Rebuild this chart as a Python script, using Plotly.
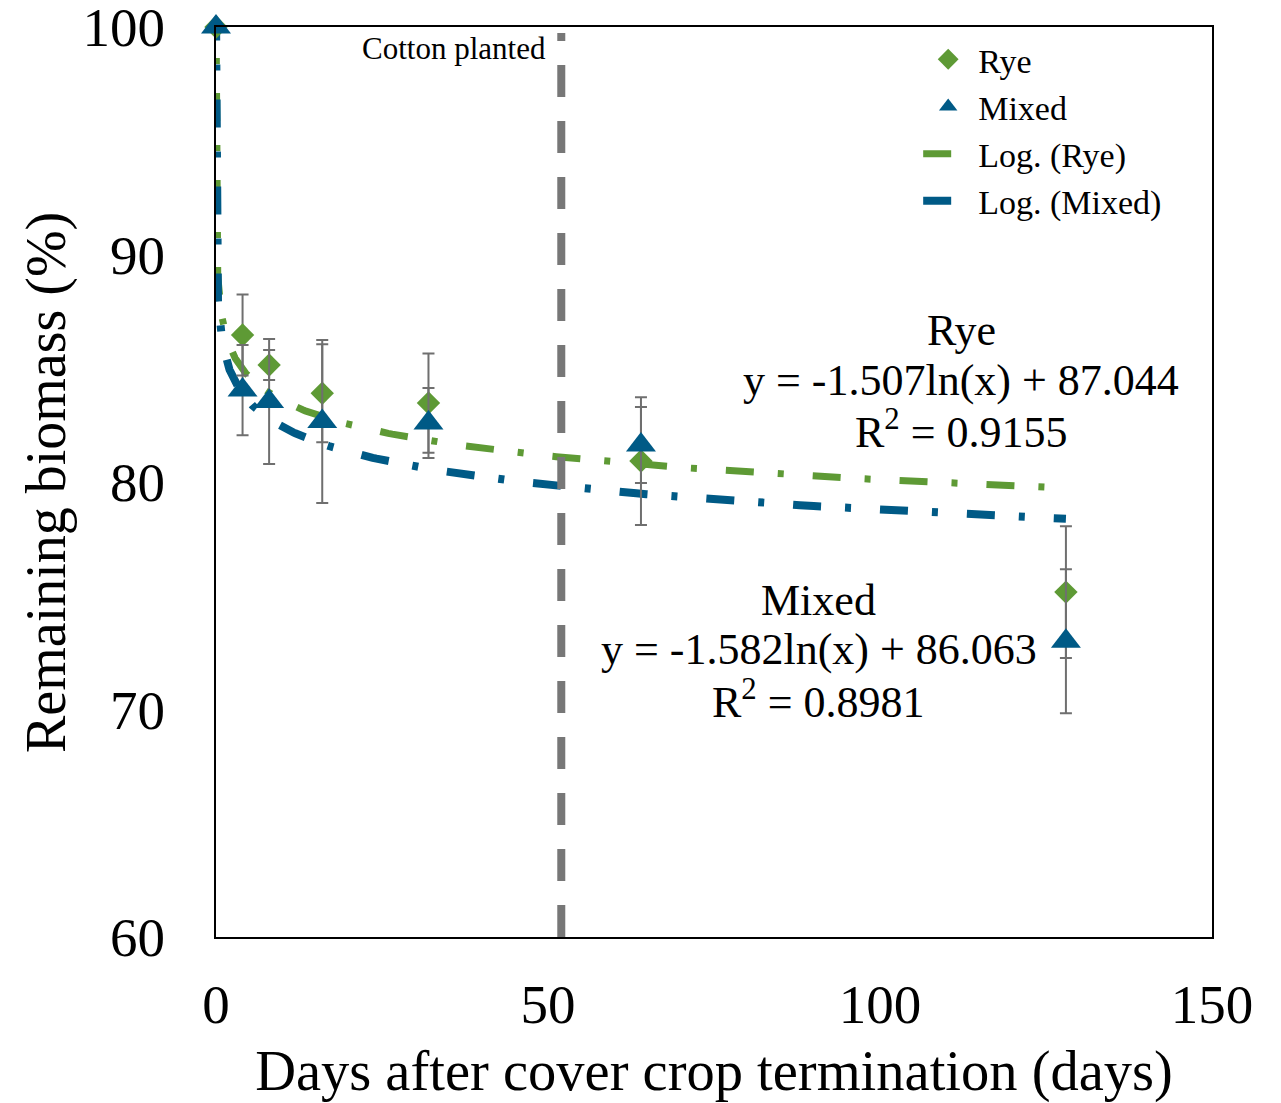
import numpy as np
import plotly.graph_objects as go

# Sampling days after termination
days = [0, 4, 8, 16, 32, 64, 128]

# Remaining biomass (%) and standard error bars
rye = [100, 86.46, 85.14, 83.90, 83.47, 80.92, 75.16]
rye_err = [0, 1.78, 0.66, 2.15, 2.18, 2.81, 2.90]
mixed = [100, 84.04, 83.54, 82.66, 82.59, 81.63, 73.00]
mixed_err = [0, 1.98, 2.75, 3.58, 1.54, 1.67, 3.16]

# Logarithmic trend coefficients: y = a*ln(x) + b
rye_fit = {"a": -1.507, "b": 87.044, "r2": 0.9155}
mixed_fit = {"a": -1.582, "b": 86.063, "r2": 0.8981}

cotton_day = 52

x_ticks = [0, 50, 100, 150]
y_ticks = [60, 70, 80, 90, 100]

GREEN = "#5E9A35"
BLUE = "#005A86"
GREY = "#6F6F6F"
FONT = "Liberation Serif"

fig = go.Figure()

# Trend curves evaluated from the fitted equations
x_fit = np.geomspace(1e-4, days[-1], 600)
for fit, color, name, w, rank in [(rye_fit, GREEN, "Log. (Rye)", 7, 3),
                                  (mixed_fit, BLUE, "Log. (Mixed)", 8, 4)]:
    fig.add_trace(go.Scatter(
        x=x_fit, y=fit["a"] * np.log(x_fit) + fit["b"],
        mode="lines", name=name,
        line=dict(color=color, width=w, dash="28px,24px,6px,29px"),
        legendrank=rank,
    ))

fig.add_trace(go.Scatter(
    x=days, y=rye, mode="markers", name="Rye", cliponaxis=False,
    marker=dict(symbol="diamond", size=18, color=GREEN),
    error_y=dict(type="data", array=rye_err, color=GREY, thickness=2, width=6),
    legendrank=1,
))
fig.add_trace(go.Scatter(
    x=days, y=mixed, mode="markers", name="Mixed", cliponaxis=False,
    marker=dict(symbol="triangle-up", size=26, color=BLUE),
    error_y=dict(type="data", array=mixed_err, color=GREY, thickness=2, width=6),
    legendrank=2,
))

# Cotton planting date
fig.add_shape(type="line", x0=cotton_day, x1=cotton_day, y0=60, y1=99.74,
              xref="x", yref="y",
              line=dict(color="#777777", width=8, dash="32px,24px"))
fig.add_annotation(x=cotton_day, y=99.05, xref="x", yref="y",
                   text="Cotton planted", showarrow=False,
                   xanchor="right", xshift=-13,
                   font=dict(family=FONT, size=31, color="black"))

# Trend equations, one line per annotation
def eq_lines(label, fit):
    return [label,
            f"y = {fit['a']:.3f}ln(x) + {fit['b']:.3f}",
            f"R<sup>2</sup> = {fit['r2']:.4f}"]

for lines, xc, ys in [(eq_lines("Rye", rye_fit), 112.2, [86.68, 84.48, 82.29]),
                      (eq_lines("Mixed", mixed_fit), 90.8, [74.81, 72.62, 70.42])]:
    for txt, yc in zip(lines, ys):
        fig.add_annotation(x=xc, y=yc, xref="x", yref="y", text=txt,
                           showarrow=False, xanchor="center", yanchor="middle",
                           font=dict(family=FONT, size=44, color="black"))

# Vertical axis title
fig.add_annotation(x=-0.1707, y=0.5, xref="paper", yref="paper",
                   text="Remaining biomass (%)", textangle=-90,
                   showarrow=False, xanchor="center", yanchor="middle",
                   font=dict(family=FONT, size=56, color="black"))

fig.update_layout(
    width=1281, height=1103,
    margin=dict(l=216, r=69, t=27, b=166),
    paper_bgcolor="white", plot_bgcolor="white",
    font=dict(family=FONT, color="black"),
    showlegend=True,
    legend=dict(x=0.705, y=0.996, xanchor="left", yanchor="top",
                bgcolor="rgba(0,0,0,0)", font=dict(family=FONT, size=34),
                tracegroupgap=0, itemwidth=50),
)
fig.update_xaxes(
    range=[0, 150], tickvals=x_ticks, showgrid=False, zeroline=False,
    showline=True, linecolor="black", linewidth=2, mirror=True,
    ticks="outside", ticklen=18, tickcolor="rgba(0,0,0,0)",
    tickfont=dict(family=FONT, size=55), automargin=False,
    ticklabeloverflow="allow",
    title=dict(text="Days after cover crop termination (days)",
               font=dict(family=FONT, size=56.5), standoff=19),
)
fig.update_yaxes(
    range=[60, 100], tickvals=y_ticks, showgrid=False, zeroline=False,
    showline=True, linecolor="black", linewidth=2, mirror=True,
    ticks="outside", ticklen=38, tickcolor="rgba(0,0,0,0)",
    tickfont=dict(family=FONT, size=55), automargin=False,
    ticklabeloverflow="allow",
)

fig.write_html("out.html")
